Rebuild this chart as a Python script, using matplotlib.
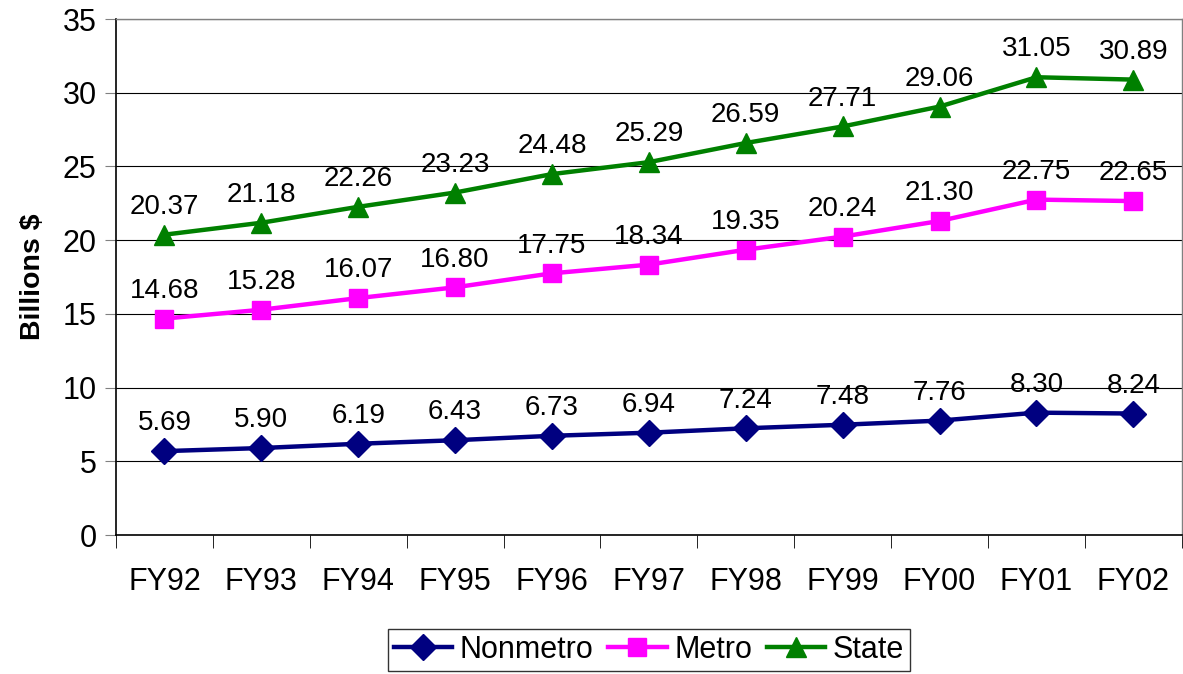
import matplotlib
matplotlib.use("Agg")
import matplotlib.pyplot as plt
import numpy as np

plt.rcParams["font.family"] = ["Liberation Sans", "DejaVu Sans"]

years = ["FY92", "FY93", "FY94", "FY95", "FY96", "FY97",
         "FY98", "FY99", "FY00", "FY01", "FY02"]
nonmetro = [5.69, 5.90, 6.19, 6.43, 6.73, 6.94, 7.24, 7.48, 7.76, 8.30, 8.24]
metro = [14.68, 15.28, 16.07, 16.80, 17.75, 18.34, 19.35, 20.24, 21.30, 22.75, 22.65]
state = [20.37, 21.18, 22.26, 23.23, 24.48, 25.29, 26.59, 27.71, 29.06, 31.05, 30.89]

series = [
    ("Nonmetro", nonmetro, "#000080", "D", 13),
    ("Metro", metro, "#FF00FF", "s", 13),
    ("State", state, "#008000", "^", 15),
]


def main():
    fig = plt.figure(figsize=(11.83, 6.74), dpi=100)
    ax = fig.add_axes([0.098, 0.2062, 0.901, 0.7656])
    x = np.arange(len(years))

    for name, vals, col, mk, ms in series:
        ax.plot(x, vals, color=col, lw=3.2, marker=mk, ms=ms,
                mfc=col, mec=col, label=name, clip_on=False, zorder=3)
        for xi, v in zip(x, vals):
            ax.annotate(f"{v:.2f}", (xi, v), xytext=(0, 20),
                        textcoords="offset points", ha="center",
                        va="center", fontsize=20, zorder=4)

    ax.set_xlim(-0.5, len(years) - 0.5)
    ax.set_ylim(0, 35)
    ax.set_yticks(range(0, 36, 5))
    ax.tick_params(axis="y", labelsize=22, length=8, color="#808080", pad=6)
    ax.grid(axis="y", color="black", lw=0.8)
    ax.set_axisbelow(True)

    ax.set_xticks(x)
    ax.set_xticklabels(years)
    ax.set_xticks(np.arange(-0.5, len(years)), minor=True)
    ax.tick_params(axis="x", which="major", length=0, labelsize=22, pad=23)
    ax.tick_params(axis="x", which="minor", length=9, color="black")

    for s in ("left", "bottom"):
        ax.spines[s].set_color("black")
        ax.spines[s].set_linewidth(1.2)
    for s in ("top", "right"):
        ax.spines[s].set_color("#808080")
        ax.spines[s].set_linewidth(1)

    ax.set_ylabel("Billions $", fontsize=20.5, fontweight="bold", labelpad=12)

    leg = fig.legend(loc="center", bbox_to_anchor=(0.5486, 0.0356), ncol=3,
                     fontsize=22, frameon=True, fancybox=False,
                     edgecolor="black", handlelength=1.9,
                     handletextpad=0.25, columnspacing=0.5,
                     borderpad=0.2)
    leg.get_frame().set_linewidth(1)

    fig.savefig("out.png", dpi=100)


if __name__ == "__main__":
    main()
